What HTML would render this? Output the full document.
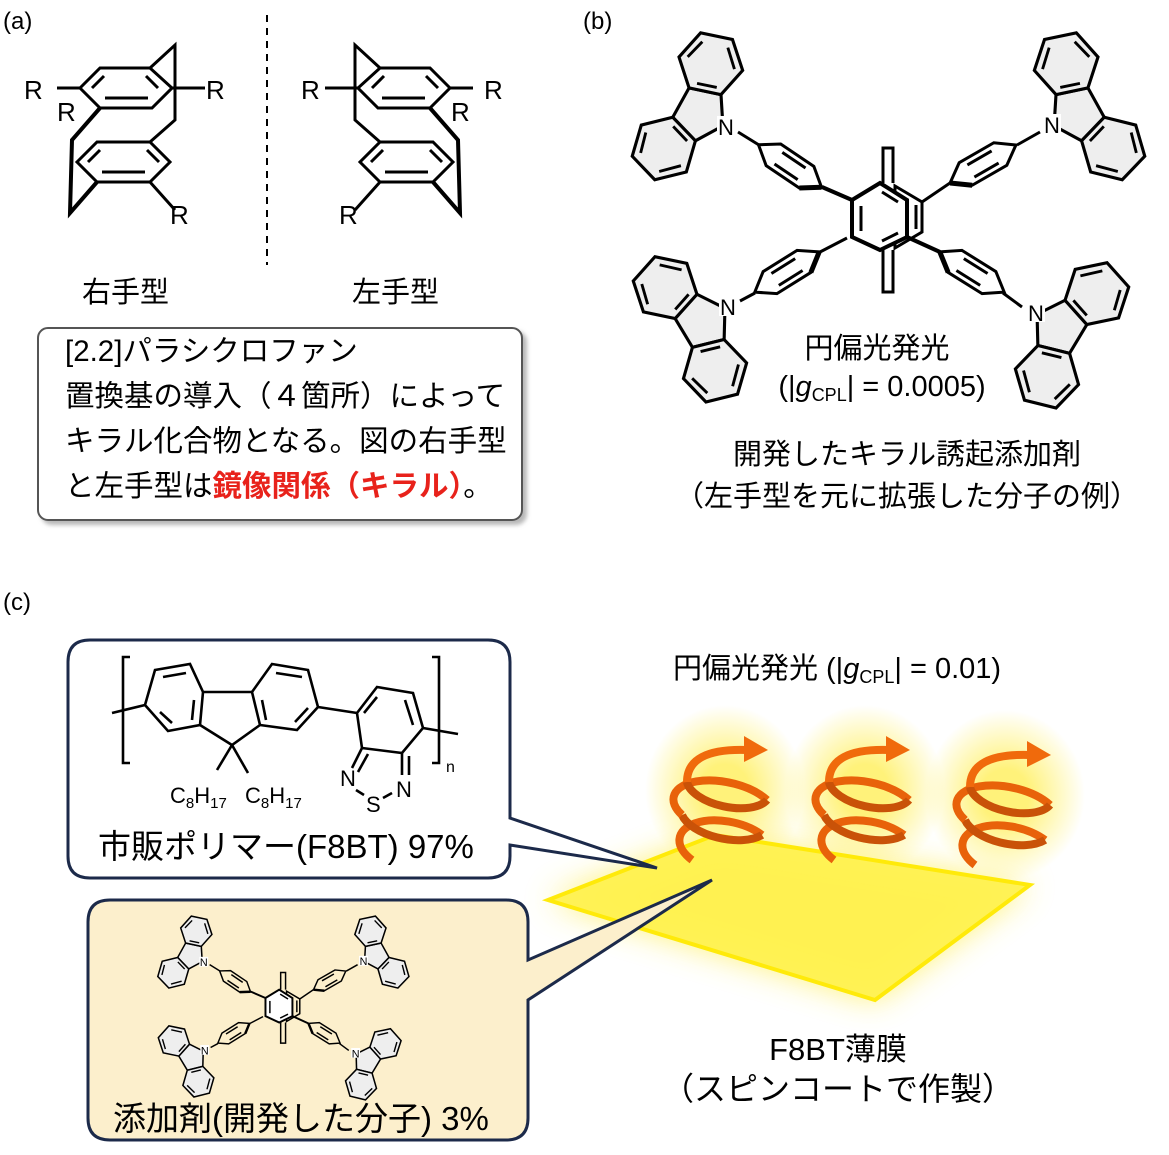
<!DOCTYPE html>
<html><head><meta charset="utf-8"><style>
html,body{margin:0;padding:0;background:#fff;}
svg{display:block;font-family:"Liberation Sans","Noto Sans CJK JP",sans-serif;}
</style></head><body>
<svg width="1169" height="1155" viewBox="0 0 1169 1155" xmlns="http://www.w3.org/2000/svg">
<defs>
<filter id="sh" x="-10%" y="-10%" width="130%" height="130%"><feDropShadow dx="4" dy="4" stdDeviation="2" flood-color="#999" flood-opacity="0.7"/></filter>
<filter id="blur" x="-30%" y="-30%" width="160%" height="160%"><feGaussianBlur stdDeviation="16"/></filter>
<g id="carbh">
<polygon points="-22,-16 -48.4,-10 -66.8,-29.9 -58.8,-55.8 -32.4,-61.8 -14,-42" fill="#eee" stroke="#000" stroke-width="2.6"/>
<line x1="-46" y1="-16.5" x2="-59" y2="-30" stroke="#000" stroke-width="2.4"/>
<line x1="-53" y1="-51" x2="-36" y2="-55.5" stroke="#000" stroke-width="2.4"/>
<line x1="-25.5" y1="-22" x2="-20.5" y2="-38" stroke="#000" stroke-width="2.4"/>
</g>
<g id="carb">
<g transform="scale(1.2)">
<polygon points="0,-2 -22,-16 -14,-42 14,-42 22,-16" fill="#eee" stroke="#000" stroke-width="2.6"/>
<use href="#carbh"/>
<use href="#carbh" transform="scale(-1,1)"/>
</g>
</g>
<g id="ph">
<polygon points="-38,0 -20,-13 20,-13 38,0 20,13 -20,13" fill="none" stroke="#000" stroke-width="3"/>
<line x1="-14" y1="-7" x2="14" y2="-7" stroke="#000" stroke-width="3"/>
<line x1="-14" y1="7" x2="14" y2="7" stroke="#000" stroke-width="3"/>
<line x1="20" y1="13" x2="38" y2="0" stroke="#000" stroke-width="5"/>
</g>
<g id="pcp">
<polygon points="80,88 100,68 150,68 172,88 152,108 100,108" fill="none" stroke="#000" stroke-width="3"/>
<line x1="105" y1="98" x2="148" y2="98" stroke="#000" stroke-width="3"/>
<line x1="92" y1="88" x2="104" y2="76" stroke="#000" stroke-width="3"/>
<line x1="158" y1="88" x2="146" y2="76" stroke="#000" stroke-width="3"/>
<polygon points="77,162 97,142 150,142 170,162 150,182 97,182" fill="none" stroke="#000" stroke-width="3"/>
<line x1="102" y1="172" x2="145" y2="172" stroke="#000" stroke-width="3"/>
<line x1="88" y1="162" x2="100" y2="150" stroke="#000" stroke-width="3"/>
<line x1="159" y1="162" x2="147" y2="150" stroke="#000" stroke-width="3"/>
<polyline points="150,68 175,45 175,120 150,142" fill="none" stroke="#000" stroke-width="3"/>
<polyline points="100,108 72,140 70,213 97,182" fill="none" stroke="#000" stroke-width="4"/>
<line x1="150" y1="182" x2="175" y2="210" stroke="#000" stroke-width="3"/>
<line x1="57" y1="88" x2="80" y2="88" stroke="#000" stroke-width="3"/>
<line x1="172" y1="88" x2="205" y2="88" stroke="#000" stroke-width="3"/>
</g>
<g id="molb">
<use href="#carb" transform="translate(725,127) rotate(-61)"/>
<use href="#carb" transform="translate(1052,127) rotate(61)"/>
<use href="#carb" transform="translate(727,307) rotate(-121)"/>
<use href="#carb" transform="translate(1035,313) rotate(121)"/>
<g font-size="22" text-anchor="middle">
<rect x="717" y="116" width="18" height="20" fill="#fff"/><text x="726" y="135">N</text>
<rect x="1043" y="114" width="18" height="20" fill="#fff"/><text x="1052" y="133">N</text>
<rect x="719" y="296" width="18" height="20" fill="#fff"/><text x="728" y="315">N</text>
<rect x="1027" y="302" width="18" height="20" fill="#fff"/><text x="1036" y="321">N</text>
</g>
<use href="#ph" transform="translate(790,166) rotate(34)"/>
<use href="#ph" transform="translate(983,164) rotate(-30) scale(-1,1)"/>
<use href="#ph" transform="translate(787,272) rotate(-32)"/>
<use href="#ph" transform="translate(972,272) rotate(32) scale(-1,1)"/>
<line x1="738" y1="132" x2="759" y2="145" stroke="#000" stroke-width="3"/>
<line x1="1040" y1="132" x2="1017" y2="145" stroke="#000" stroke-width="3"/>
<line x1="740" y1="301" x2="755" y2="293" stroke="#000" stroke-width="3"/>
<line x1="1022" y1="307" x2="1003" y2="293" stroke="#000" stroke-width="3"/>
<polyline points="883,183 883,148 893,148 893,183" fill="none" stroke="#000" stroke-width="3"/>
<polyline points="883,250 883,292 893,292 893,250" fill="none" stroke="#000" stroke-width="3"/>
<polygon points="895,186 922,202 922,232 895,248" fill="none" stroke="#000" stroke-width="3"/>
<line x1="916" y1="205" x2="916" y2="229" stroke="#000" stroke-width="3"/>
<polygon points="852,200 880,183 907,200 907,237 880,250 852,237" fill="#fff" stroke="#000" stroke-width="4"/>
<line x1="861" y1="206" x2="861" y2="231" stroke="#000" stroke-width="3"/>
<line x1="882" y1="192" x2="898" y2="202" stroke="#000" stroke-width="3"/>
<line x1="882" y1="241" x2="898" y2="233" stroke="#000" stroke-width="3"/>
<line x1="822" y1="187" x2="852" y2="200" stroke="#000" stroke-width="4"/>
<line x1="820" y1="252" x2="847" y2="238" stroke="#000" stroke-width="3"/>
<line x1="950" y1="183" x2="922" y2="202" stroke="#000" stroke-width="3"/>
<line x1="940" y1="252" x2="907" y2="237" stroke="#000" stroke-width="4"/>
</g>
<radialGradient id="glow"><stop offset="0.3" stop-color="#fff27a"/><stop offset="1" stop-color="#fff27a" stop-opacity="0"/></radialGradient>
<g id="spiral" fill="none" stroke-width="8">
<path d="M-30,60 A45,24 12 1 1 40,35" stroke="#e8620a"/>
<path d="M40,35 A45,22 12 0 1 -40,15" stroke="#c95208"/>
<path d="M-40,15 A45,22 12 1 1 45,0" stroke="#e8620a"/>
<path d="M45,0 A42,20 12 0 1 -35,-18" stroke="#c95208"/>
<path d="M-35,-18 Q-35,-52 25,-50" stroke="#f06a0c"/>
<polygon points="22,-64 46,-50 22,-38" fill="#f06a0c" stroke="none"/>
</g>
</defs>

<!-- (a) -->
<text x="3" y="29" font-size="24">(a)</text>
<line x1="267" y1="15" x2="267" y2="265" stroke="#000" stroke-width="2" stroke-dasharray="7,6"/>
<use href="#pcp"/>
<use href="#pcp" transform="translate(530,0) scale(-1,1)"/>
<g font-size="26">
<text x="24" y="99">R</text><text x="57" y="121">R</text><text x="206" y="99">R</text><text x="170" y="224">R</text>
<text x="301" y="99">R</text><text x="451" y="121">R</text><text x="484" y="99">R</text><text x="339" y="224">R</text>
</g>
<g font-size="29"><text x="82" y="302">右手型</text><text x="352" y="302">左手型</text></g>
<rect x="38" y="328" width="484" height="192" rx="10" fill="#fff" stroke="#555" stroke-width="2" filter="url(#sh)"/>
<g font-size="29.5">
<text x="65" y="361">[2.2]パラシクロファン</text>
<text x="65" y="406">置換基の導入（４箇所）によって</text>
<text x="65" y="451">キラル化合物となる。図の右手型</text>
<text x="65" y="496">と左手型は<tspan fill="#e8221b" font-weight="bold">鏡像関係（キラル）</tspan>。</text>
</g>

<!-- (b) -->
<text x="583" y="29" font-size="24">(b)</text>
<use href="#molb"/>
<g font-size="29" text-anchor="middle">
<text x="877" y="358">円偏光発光</text>
<text x="882" y="396">(|<tspan font-style="italic">g</tspan><tspan font-size="18" dy="5">CPL</tspan><tspan dy="-5">| = 0.0005)</tspan></text>
<text x="907" y="464">開発したキラル誘起添加剤</text>
<text x="907" y="506">（左手型を元に拡張した分子の例）</text>
</g>

<!-- (c) -->
<text x="3" y="610" font-size="24">(c)</text>
<polygon points="548,900 715,835 1030,885 875,1000" fill="#fff060" filter="url(#blur)" opacity="0.9"/>
<ellipse cx="725" cy="790" rx="80" ry="85" fill="url(#glow)"/>
<ellipse cx="865" cy="790" rx="80" ry="85" fill="url(#glow)"/>
<ellipse cx="1005" cy="795" rx="80" ry="85" fill="url(#glow)"/>
<polygon points="548,900 715,835 1030,885 875,1000" fill="#fff250" stroke="#ffea00" stroke-width="4" opacity="0.95"/>
<use href="#spiral" transform="translate(722,800)"/>
<use href="#spiral" transform="translate(864,800)"/>
<use href="#spiral" transform="translate(1005,805)"/>
<text x="837" y="678" font-size="29" text-anchor="middle">円偏光発光 (|<tspan font-style="italic">g</tspan><tspan font-size="18" dy="5">CPL</tspan><tspan dy="-5">| = 0.01)</tspan></text>
<text x="838" y="1060" font-size="31" text-anchor="middle">F8BT薄膜</text>
<text x="838" y="1100" font-size="32" text-anchor="middle">（スピンコートで作製）</text>

<!-- callout 1 -->
<path d="M90,640 H488 Q510,640 510,662 V818 L657,868 L510,845 V856 Q510,878 488,878 H90 Q68,878 68,856 V662 Q68,640 90,640 Z" fill="#fff" stroke="#1c2a4a" stroke-width="3"/>
<g stroke="#000" stroke-width="2.6" fill="none">
<polyline points="130,657 123,657 123,763 130,763"/>
<polyline points="432,657 439,657 439,763 432,763"/>
<line x1="112" y1="713" x2="145" y2="705"/>
<polygon points="145,705 155,670 190,664 203,692 200,725 168,731"/>
<polygon points="252,692 272,664 308,670 318,707 297,730 260,725"/>
<polyline points="203,692 252,692"/>
<polyline points="200,725 232,745 260,725"/>
<line x1="163" y1="677" x2="186" y2="673"/><line x1="160" y1="712" x2="172" y2="723"/><line x1="194" y1="700" x2="192" y2="720"/>
<line x1="276" y1="673" x2="302" y2="677"/><line x1="308" y1="708" x2="295" y2="722"/><line x1="262" y1="700" x2="266" y2="720"/>
<line x1="318" y1="707" x2="357" y2="713"/>
<polygon points="357,713 377,687 413,693 423,728 402,753 362,748"/>
<line x1="377" y1="697" x2="364" y2="713"/><line x1="405" y1="700" x2="413" y2="725"/>
<line x1="423" y1="728" x2="458" y2="734"/>
<line x1="362" y1="748" x2="352" y2="768"/><line x1="368" y1="754" x2="358" y2="772"/>
<line x1="402" y1="753" x2="402" y2="775"/><line x1="409" y1="756" x2="409" y2="775"/>
<line x1="232" y1="745" x2="217" y2="770"/><line x1="232" y1="745" x2="248" y2="773"/>
<line x1="356" y1="790" x2="364" y2="795"/><line x1="383" y1="798" x2="392" y2="793"/>
</g>
<g font-size="22">
<text x="170" y="803">C<tspan font-size="15" dy="5">8</tspan><tspan dy="-5">H</tspan><tspan font-size="15" dy="5">17</tspan></text>
<text x="245" y="803">C<tspan font-size="15" dy="5">8</tspan><tspan dy="-5">H</tspan><tspan font-size="15" dy="5">17</tspan></text>
<text x="340" y="786">N</text><text x="366" y="812">S</text><text x="396" y="797">N</text>
<text x="446" y="772" font-size="16">n</text>
</g>
<text x="98" y="858" font-size="33">市販ポリマー(F8BT) 97%</text>

<!-- callout 2 -->
<path d="M110,900 H506 Q528,900 528,922 V960 L712,880 L528,1000 V1118 Q528,1140 506,1140 H110 Q88,1140 88,1118 V922 Q88,900 110,900 Z" fill="#fcefcc" stroke="#1c2a4a" stroke-width="3"/>
<use href="#molb" transform="translate(-152,900) scale(0.49)"/>
<text x="113" y="1130" font-size="33">添加剤(開発した分子) 3%</text>
</svg>
</body></html>
